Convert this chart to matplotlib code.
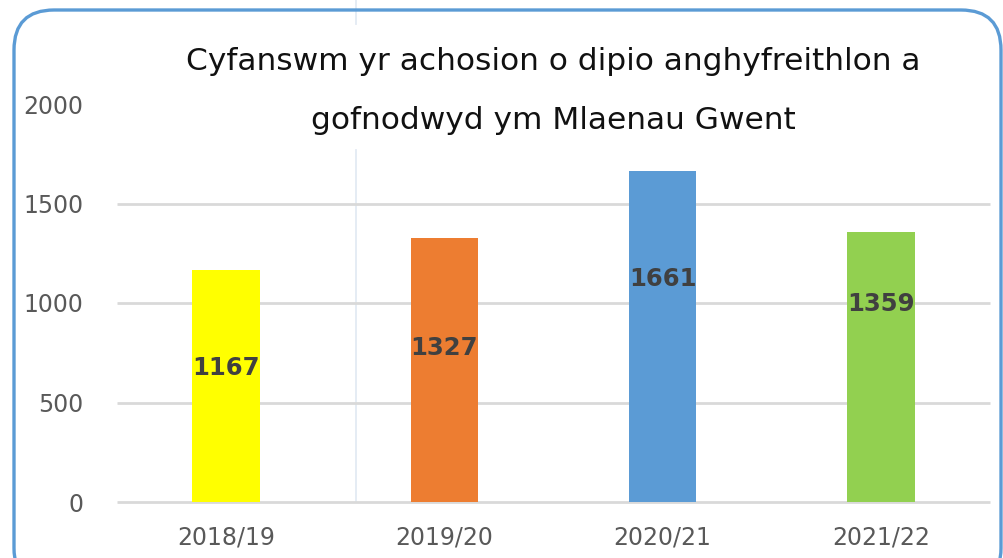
import matplotlib.pyplot as plt
from matplotlib.patches import FancyBboxPatch
from matplotlib.lines import Line2D

blynyddoedd = ["2018/19", "2019/20", "2020/21", "2021/22"]
achosion = [1167, 1327, 1661, 1359]
lliwiau = ["#FFFF00", "#ED7D31", "#5B9BD5", "#92D050"]
# where each data label sits, in data units (as placed in the source chart)
safle_label = [675, 775, 1120, 995]
y_ticks = [0, 500, 1000, 1500, 2000]
teitl = "Cyfanswm yr achosion o dipio anghyfreithlon a\n\ngofnodwyd ym Mlaenau Gwent"

fig = plt.figure(figsize=(10.04, 5.58), dpi=100)
W, H = 1004, 558

# faint vertical guide line from the source page
for y0, y1 in [(0, 24), (150, 502)]:
    fig.add_artist(Line2D([356 / W, 356 / W], [1 - y0 / H, 1 - y1 / H],
                          color="#E3EAF3", lw=1.3, zorder=0))

# rounded blue frame
frame = FancyBboxPatch((0.14, -0.3), 9.87, 5.78, boxstyle="round,pad=0,rounding_size=0.4",
                       transform=fig.dpi_scale_trans, facecolor="none",
                       edgecolor="#5B9BD5", lw=2.4, zorder=5)
fig.add_artist(frame)

ax = fig.add_axes([117 / W, 56 / H, (990 - 117) / W, (502 - 104) / H])
ax.set_facecolor("none")
x = range(len(blynyddoedd))
ax.bar(x, achosion, width=0.31, color=lliwiau, zorder=3)
ax.hlines(y_ticks[:-1], -0.5, 3.5, color="#D9D9D9", lw=2, zorder=1, clip_on=False)
ax.set_xlim(-0.5, 3.5)
ax.set_ylim(0, 2000)
ax.set_yticks(y_ticks)
ax.set_xticks(list(x))
ax.set_xticklabels(blynyddoedd)
ax.tick_params(axis="both", length=0, labelsize=17, labelcolor="#595959")
ax.tick_params(axis="x", pad=17)
ax.tick_params(axis="y", pad=24)
for s in ax.spines.values():
    s.set_visible(False)

for i, (v, yl) in enumerate(zip(achosion, safle_label)):
    ax.text(i, yl, str(v), ha="center", va="center", fontsize=17.5,
            fontweight="bold", color="#404040", zorder=4)

fig.text(553 / W, 1 - 91 / H, teitl, ha="center", va="center", fontsize=22.5,
         color="#111111", linespacing=1.02)

fig.savefig("out.png", dpi=100)
